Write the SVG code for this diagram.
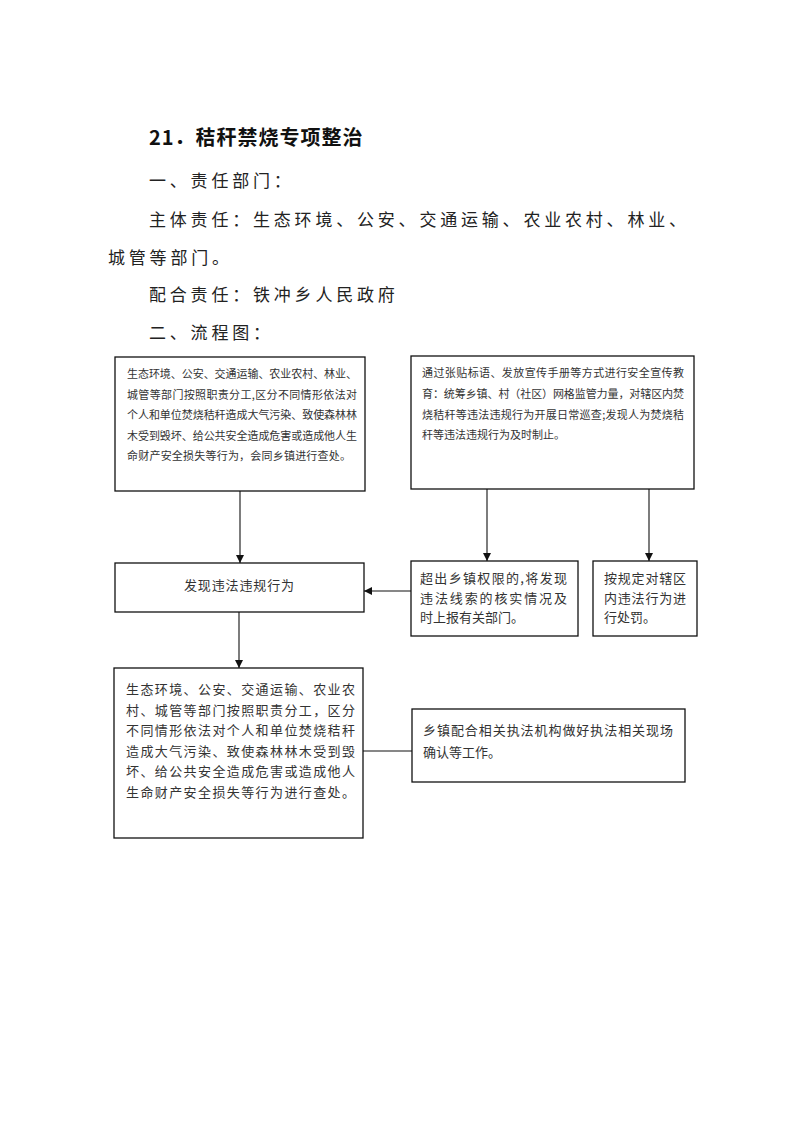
<svg xmlns="http://www.w3.org/2000/svg" width="793" height="1122" viewBox="0 0 793 1122">
<style>
.bg{fill:#fff}
.h{font-family:"Noto Sans CJK SC","Noto Sans",sans-serif;font-size:17px;letter-spacing:3.8px;fill:#222}
.t{font-family:"Noto Sans CJK SC","Noto Sans",sans-serif;font-size:20px;font-weight:700;letter-spacing:1px;fill:#111}
.box{fill:#fff;stroke:#111;stroke-width:1.3}
.s{font-family:"Noto Sans CJK SC",sans-serif;font-size:11px;fill:#333}
.m{font-family:"Noto Sans CJK SC",sans-serif;font-size:13px;fill:#333}
.c{stroke:#111;stroke-width:1.1;fill:none}
</style>
<defs>
<marker id="ah" viewBox="0 0 10 10" refX="10" refY="5" markerWidth="8" markerHeight="8" markerUnits="userSpaceOnUse" orient="auto">
<path d="M0,0 L10,5 L0,10 Z" fill="#111"/>
</marker>
</defs>
<rect class="bg" x="0" y="0" width="793" height="1122"/>
<g id="heading">
<text class="t" x="149" y="145">21．秸秆禁烧专项整治</text>
<text class="h" x="149" y="187">一、责任部门：</text>
<text class="h" x="149" y="226">主体责任：生态环境、公安、交通运输、农业农村、林业、</text>
<text class="h" x="108" y="264">城管等部门。</text>
<text class="h" x="149" y="301">配合责任：铁冲乡人民政府</text>
<text class="h" x="149" y="339">二、流程图：</text>
</g>
<g id="connectors">
<line class="c" x1="240" y1="491" x2="240" y2="563" marker-end="url(#ah)"/>
<line class="c" x1="487" y1="489" x2="487" y2="561" marker-end="url(#ah)"/>
<line class="c" x1="649" y1="489" x2="649" y2="561" marker-end="url(#ah)"/>
<line class="c" x1="411" y1="591" x2="364" y2="591" marker-end="url(#ah)"/>
<line class="c" x1="239" y1="612" x2="239" y2="668" marker-end="url(#ah)"/>
<line class="c" x1="363" y1="751" x2="412" y2="751"/>
</g>
<g id="n1">
<rect class="box" x="115" y="357" width="250" height="134"/>
<text class="s" x="127" y="378" textLength="230">生态环境、公安、交通运输、农业农村、林业、</text>
<text class="s" x="127" y="399" textLength="230">城管等部门按照职责分工,区分不同情形依法对</text>
<text class="s" x="127" y="419" textLength="230">个人和单位焚烧秸秆造成大气污染、致使森林林</text>
<text class="s" x="127" y="440" textLength="230">木受到毁坏、给公共安全造成危害或造成他人生</text>
<text class="s" x="127" y="460" textLength="224">命财产安全损失等行为，会同乡镇进行查处。</text>
</g>
<g id="n2">
<rect class="box" x="411" y="356" width="283" height="133"/>
<text class="s" x="422" y="377" textLength="262">通过张贴标语、发放宣传手册等方式进行安全宣传教</text>
<text class="s" x="422" y="398" textLength="262">育：统筹乡镇、村（社区）网格监管力量，对辖区内焚</text>
<text class="s" x="422" y="419" textLength="262">烧秸秆等违法违规行为开展日常巡查;发现人为焚烧秸</text>
<text class="s" x="422" y="439">秆等违法违规行为及时制止。</text>
</g>
<g id="n3">
<rect class="box" x="115" y="563" width="249" height="49"/>
<text class="m" x="184" y="590" textLength="110">发现违法违规行为</text>
</g>
<g id="n4">
<rect class="box" x="411" y="561" width="167" height="75"/>
<text class="m" x="420" y="583" textLength="147">超出乡镇权限的,将发现</text>
<text class="m" x="420" y="603" textLength="147">违法线索的核实情况及</text>
<text class="m" x="420" y="622">时上报有关部门。</text>
</g>
<g id="n5">
<rect class="box" x="593" y="561" width="104" height="75"/>
<text class="m" x="604" y="583" textLength="82">按规定对辖区</text>
<text class="m" x="604" y="603" textLength="82">内违法行为进</text>
<text class="m" x="604" y="622">行处罚。</text>
</g>
<g id="n6">
<rect class="box" x="114" y="668" width="249" height="170"/>
<text class="m" x="126" y="694" textLength="229">生态环境、公安、交通运输、农业农</text>
<text class="m" x="126" y="715" textLength="229">村、城管等部门按照职责分工，区分</text>
<text class="m" x="126" y="735" textLength="229">不同情形依法对个人和单位焚烧秸秆</text>
<text class="m" x="126" y="756" textLength="229">造成大气污染、致使森林林木受到毁</text>
<text class="m" x="126" y="776" textLength="229">坏、给公共安全造成危害或造成他人</text>
<text class="m" x="126" y="797" textLength="229">生命财产安全损失等行为进行查处。</text>
</g>
<g id="n7">
<rect class="box" x="412" y="709" width="273" height="73"/>
<text class="m" x="423" y="735" textLength="250">乡镇配合相关执法机构做好执法相关现场</text>
<text class="m" x="423" y="757">确认等工作。</text>
</g>
</svg>
